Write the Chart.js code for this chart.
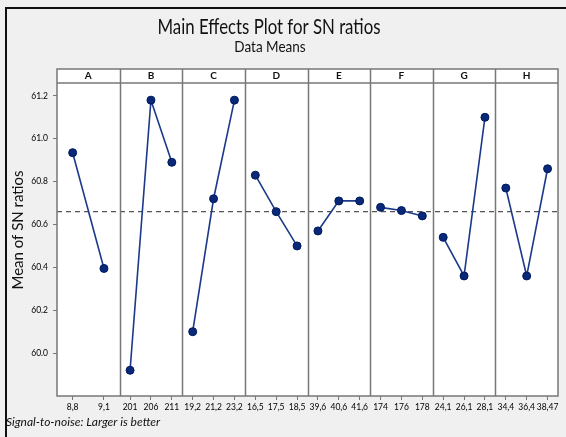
<!DOCTYPE html>
<html>
<head>
<meta charset="utf-8">
<script src="https://cdn.jsdelivr.net/npm/chart.js@4.4.1/dist/chart.umd.min.js"></script>
<style>
  html, body { margin: 0; padding: 0; background: #f0f0f0; }
  #wrap { width: 566px; height: 437px; position: relative; }
</style>
</head>
<body>
<div id="wrap"><canvas id="chart" width="566" height="437"></canvas></div>
<script>
// Factors and their levels
const factors = ["A", "B", "C", "D", "E", "F", "G", "H"];
const levelLabels = [
    ["8,8", "9,1"],
    ["201", "206", "211"],
    ["19,2", "21,2", "23,2"],
    ["16,5", "17,5", "18,5"],
    ["39,6", "40,6", "41,6"],
    ["174", "176", "178"],
    ["24,1", "26,1", "28,1"],
    ["34,4", "36,4", "38,47"]
];
// Mean of SN ratios per level
const snMeans = [
    [60.935, 60.395],
    [59.92, 61.18, 60.89],
    [60.10, 60.72, 61.18],
    [60.83, 60.66, 60.50],
    [60.57, 60.71, 60.71],
    [60.68, 60.665, 60.64],
    [60.54, 60.36, 61.10],
    [60.77, 60.36, 60.86]
];
const grandMean = 60.66;
const yTicks = [60.0, 60.2, 60.4, 60.6, 60.8, 61.0, 61.2];

// panel i spans [i, i+1] on the x scale, levels spread evenly inside it
function levelPos(i, k, n) { return i + (k + 0.5) / n; }

const tickPositions = [];
const tickNames = [];
levelLabels.forEach((labels, i) => {
    labels.forEach((lab, k) => {
        tickPositions.push(levelPos(i, k, labels.length));
        tickNames.push(lab);
    });
});

const datasets = snMeans.map((vals, i) => ({
    data: vals.map((v, k) => ({ x: levelPos(i, k, vals.length), y: v })),
    borderColor: "#1b3a8a",
    borderWidth: 1.6,
    pointRadius: 4,
    pointBackgroundColor: "#0a2878",
    pointBorderColor: "#001a60",
    pointBorderWidth: 1,
    tension: 0
}));
datasets.push({
    data: [{ x: 0, y: grandMean }, { x: factors.length, y: grandMean }],
    borderColor: "#555555",
    borderWidth: 1.3,
    borderDash: [5, 4],
    pointRadius: 0
});

const HEADER_H = 14;
const FONT = "Lato, 'Open Sans', sans-serif";

// squeezed text, the original uses a narrow face
function narrowText(ctx, text, x, y, sx) {
    ctx.save();
    ctx.translate(x, y);
    ctx.scale(sx, 1);
    ctx.fillText(text, 0, 0);
    ctx.restore();
}

const decorations = {
    id: "decorations",
    beforeDraw(chart) {
        const { ctx, chartArea } = chart;
        const x = chart.scales.x;
        ctx.save();
        // plot area + header background
        ctx.fillStyle = "#ffffff";
        ctx.fillRect(chartArea.left, chartArea.top - HEADER_H, chartArea.right - chartArea.left, chartArea.bottom - chartArea.top + HEADER_H);
        // outer frame (left and top)
        ctx.strokeStyle = "#111";
        ctx.lineWidth = 2;
        ctx.beginPath();
        ctx.moveTo(6, 437);
        ctx.lineTo(6, 8);
        ctx.lineTo(566, 8);
        ctx.stroke();
        // titles
        ctx.fillStyle = "#111";
        ctx.textAlign = "center";
        ctx.textBaseline = "middle";
        ctx.font = "21px " + FONT;
        narrowText(ctx, "Main Effects Plot for SN ratios", 269, 27, 0.8);
        ctx.font = "15px " + FONT;
        narrowText(ctx, "Data Means", 270, 47, 0.9);
        // header letters
        ctx.font = "bold 10px " + FONT;
        factors.forEach((f, i) => {
            const cx = (x.getPixelForValue(i) + x.getPixelForValue(i + 1)) / 2;
            ctx.fillText(f, cx, chartArea.top - HEADER_H / 2);
        });
        // y title
        ctx.save();
        ctx.translate(18, 230);
        ctx.rotate(-Math.PI / 2);
        ctx.font = "15px " + FONT;
        ctx.fillText("Mean of SN ratios", 0, 0);
        ctx.restore();
        // footer
        ctx.textAlign = "left";
        ctx.font = "italic 12px " + FONT;
        ctx.fillText("Signal-to-noise: Larger is better", 6, 422);
        ctx.restore();
    },
    afterDraw(chart) {
        const { ctx, chartArea } = chart;
        const x = chart.scales.x;
        ctx.save();
        ctx.strokeStyle = "#777777";
        ctx.lineWidth = 1.5;
        // panel separators
        for (let i = 1; i < factors.length; i++) {
            const px = Math.round(x.getPixelForValue(i)) + 0.5;
            ctx.beginPath();
            ctx.moveTo(px, chartArea.top - HEADER_H);
            ctx.lineTo(px, chartArea.bottom);
            ctx.stroke();
        }
        ctx.strokeRect(chartArea.left, chartArea.top - HEADER_H, chartArea.right - chartArea.left, chartArea.bottom - chartArea.top + HEADER_H);
        ctx.beginPath();
        ctx.moveTo(chartArea.left, chartArea.top);
        ctx.lineTo(chartArea.right, chartArea.top);
        ctx.stroke();
        ctx.restore();
    }
};

new Chart(document.getElementById("chart"), {
    type: "line",
    data: { datasets: datasets },
    options: {
        responsive: false,
        animation: false,
        layout: { padding: { top: 83, right: 8, left: 0, bottom: 0 } },
        plugins: { legend: { display: false }, tooltip: { enabled: false } },
        scales: {
            x: {
                type: "linear",
                min: 0,
                max: factors.length,
                afterBuildTicks: scale => { scale.ticks = tickPositions.map(v => ({ value: v })); },
                afterFit: scale => { scale.height = 41; },
                ticks: {
                    autoSkip: false,
                    maxRotation: 0,
                    padding: 2,
                    color: "#000",
                    font: { family: FONT, size: 8.5 },
                    callback: (value, index) => tickNames[index]
                },
                grid: { drawOnChartArea: false, tickLength: 4, color: "#777" },
                border: { display: false }
            },
            y: {
                min: 59.8,
                max: 61.26,
                afterBuildTicks: scale => { scale.ticks = yTicks.map(v => ({ value: v })); },
                afterFit: scale => { scale.width = 57; },
                ticks: {
                    padding: 5,
                    color: "#000",
                    font: { family: FONT, size: 8.5 },
                    callback: v => v.toFixed(1)
                },
                grid: { drawOnChartArea: false, tickLength: 4, color: "#777" },
                border: { display: false }
            }
        }
    },
    plugins: [decorations]
});
</script>
</body>
</html>
